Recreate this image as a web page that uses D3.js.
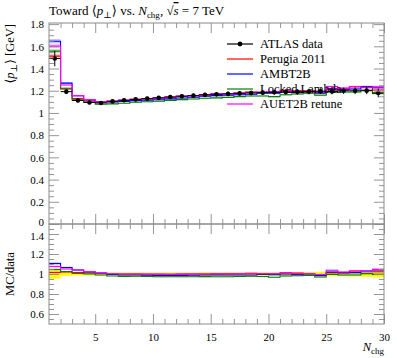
<!DOCTYPE html>
<html><head><meta charset="utf-8">
<script src="https://cdn.jsdelivr.net/npm/d3@7"></script>
<style>
html,body{margin:0;padding:0;background:#fff;}
svg{display:block;font-family:"Liberation Serif","DejaVu Serif",serif;}
</style></head><body>
<svg id="c" width="397" height="358"></svg>
<script>
// ---- data ----
const binLow  = [1,2,3,4,5,6,7,8,9,10,11,12,13,14,15,16,17,18,19,20,21,22,23,24,25,26,27,28,29];
const binHigh = [2,3,4,5,6,7,8,9,10,11,12,13,14,15,16,17,18,19,20,21,22,23,24,25,26,27,28,29,30];
const atlasData = [1.49,1.192,1.112,1.094,1.090,1.104,1.114,1.122,1.129,1.136,1.144,1.151,1.156,1.163,1.168,1.172,1.176,1.180,1.183,1.186,1.188,1.190,1.193,1.196,1.194,1.200,1.200,1.201,1.180];
const atlasErr  = [0.07,0.022,0.017,0.016,0.016,0.016,0.016,0.017,0.017,0.017,0.018,0.018,0.018,0.019,0.019,0.02,0.02,0.021,0.021,0.022,0.023,0.024,0.025,0.026,0.027,0.028,0.03,0.032,0.04];
const perugia2011 = [1.512,1.216,1.129,1.105,1.095,1.104,1.114,1.122,1.127,1.134,1.142,1.149,1.156,1.163,1.168,1.174,1.180,1.188,1.187,1.190,1.203,1.200,1.199,1.190,1.210,1.212,1.236,1.229,1.207];
const ambt2b      = [1.646,1.269,1.156,1.116,1.101,1.098,1.103,1.111,1.115,1.119,1.127,1.134,1.142,1.151,1.156,1.160,1.164,1.168,1.177,1.178,1.188,1.184,1.193,1.178,1.218,1.216,1.216,1.237,1.227];
const lockedLambda= [1.557,1.222,1.118,1.094,1.079,1.082,1.088,1.096,1.101,1.105,1.113,1.120,1.125,1.132,1.136,1.140,1.147,1.153,1.153,1.147,1.164,1.170,1.177,1.160,1.190,1.188,1.188,1.205,1.176];
const auet2b      = [1.602,1.252,1.156,1.121,1.101,1.107,1.114,1.122,1.129,1.136,1.142,1.149,1.156,1.163,1.172,1.174,1.180,1.184,1.187,1.192,1.200,1.194,1.197,1.190,1.238,1.224,1.236,1.231,1.235];
const mcErr       = [0.02,0.008,0.005,0.004,0.004,0.004,0.004,0.004,0.005,0.005,0.005,0.005,0.005,0.006,0.006,0.006,0.006,0.007,0.007,0.007,0.008,0.008,0.008,0.009,0.009,0.01,0.01,0.011,0.012];
const seriesNames = ["Perugia 2011","AMBT2B","Locked Lambda","AUET2B retune"];
const seriesColors= ["#ff0000","#0000ff","#008000","#ff00ff"];
const bandColors  = ["#ff8080","#8080ff","#80c080","#ff80ff"];
const mainTicks   = [0,0.2,0.4,0.6,0.8,1,1.2,1.4,1.6,1.8];
const ratioTicks  = [0.6,0.8,1,1.2,1.4];
const xTicks      = [5,10,15,20,25,30];

const mcSeries = [perugia2011, ambt2b, lockedLambda, auet2b];

// ---- layout ----
const svg = d3.select("#c");
const L=49, R=384, T=23, MB=224, RB=324;
const x  = d3.scaleLinear([1,30],[L,R]);
const yM = d3.scaleLinear([0,1.81],[MB,T]);
const yR = d3.scaleLinear([0.5,1.5],[RB,MB]);
const frameCol = "#8a8a8a";
const FS = 12.5, TFS = 11;

svg.append("clipPath").attr("id","cm").append("rect").attr("x",L).attr("y",T).attr("width",R-L).attr("height",MB-T);
svg.append("clipPath").attr("id","cr").append("rect").attr("x",L).attr("y",MB).attr("width",R-L).attr("height",RB-MB);

function stepPts(vals){ const p=[]; vals.forEach((v,i)=>{p.push([binLow[i],v]);p.push([binHigh[i],v]);}); return p; }
function bandPts(vals,errs){ const p=[]; vals.forEach((v,i)=>{p.push([binLow[i],v-errs[i],v+errs[i]]);p.push([binHigh[i],v-errs[i],v+errs[i]]);}); return p; }

// ---- axes helper ----
function drawAxes(y, major, minor, top, bottom, showXLabels, nudge){
  const gx = svg.append("g");
  const fmt = d=>String(+d.toFixed(2));
  const left = gx.append("g").attr("transform",`translate(${L},0)`)
    .call(d3.axisLeft(y).tickValues(major).tickSize(-10).tickFormat(fmt));
  gx.append("g").attr("transform",`translate(${L},0)`)
    .call(d3.axisLeft(y).tickValues(minor).tickSize(-5).tickFormat(""));
  gx.append("g").attr("transform",`translate(${R},0)`)
    .call(d3.axisRight(y).tickValues(major).tickSize(-10).tickFormat(""));
  gx.append("g").attr("transform",`translate(${R},0)`)
    .call(d3.axisRight(y).tickValues(minor).tickSize(-5).tickFormat(""));
  const xMinor = binLow.slice(1).filter(v=>v%5!==0);
  const bot = gx.append("g").attr("transform",`translate(0,${bottom})`)
    .call(d3.axisBottom(x).tickValues(xTicks).tickSize(-10).tickFormat(showXLabels? d3.format("d"):""));
  gx.append("g").attr("transform",`translate(0,${bottom})`)
    .call(d3.axisBottom(x).tickValues(xMinor).tickSize(-5).tickFormat(""));
  gx.append("g").attr("transform",`translate(0,${top})`)
    .call(d3.axisTop(x).tickValues(xTicks).tickSize(-10).tickFormat(""));
  gx.append("g").attr("transform",`translate(0,${top})`)
    .call(d3.axisTop(x).tickValues(xMinor).tickSize(-5).tickFormat(""));
  gx.selectAll(".domain").remove();
  gx.selectAll(".tick line").attr("stroke",frameCol).attr("stroke-width",0.9);
  gx.selectAll(".tick text").attr("font-family","Liberation Serif, serif").attr("font-size",TFS).attr("fill","#000");
  left.selectAll(".tick text").attr("x",-5).attr("dy",d=>(nudge[d]||0)+3.8);
  bot.selectAll(".tick text").attr("y",9);
  svg.append("rect").attr("x",L).attr("y",top).attr("width",R-L).attr("height",bottom-top)
    .attr("fill","none").attr("stroke",frameCol).attr("stroke-width",1);
}

// ---- main panel ----
const gM = svg.append("g").attr("clip-path","url(#cm)");

const legY = [44,59,74,89,104];
const legNames = ["ATLAS data"].concat(seriesNames);
const legCols = ["#000"].concat(seriesColors);
const leg = svg.append("g");
legNames.forEach((n,i)=>{
  leg.append("line").attr("x1",227).attr("x2",253).attr("y1",legY[i]).attr("y2",legY[i])
    .attr("stroke",legCols[i]).attr("stroke-width",1.2);
  leg.append("text").attr("x",260).attr("y",legY[i]+4).attr("font-size",FS).text(n);
});
leg.append("circle").attr("cx",240).attr("cy",legY[0]).attr("r",2.4).attr("fill","#000");

mcSeries.forEach((s,k)=>{
  gM.append("path").datum(bandPts(s,mcErr))
    .attr("d",d3.area().x(d=>x(d[0])).y0(d=>yM(d[1])).y1(d=>yM(d[2])))
    .attr("fill",bandColors[k]).attr("opacity",0.45);
});
mcSeries.forEach((s,k)=>{
  gM.append("path").datum(stepPts(s))
    .attr("d",d3.line().x(d=>x(d[0])).y(d=>yM(d[1])))
    .attr("fill","none").attr("stroke",seriesColors[k]).attr("stroke-width",1.1);
});
const dp = gM.append("g");
atlasData.forEach((v,i)=>{
  const cx = x((binLow[i]+binHigh[i])/2);
  dp.append("line").attr("x1",x(binLow[i])).attr("x2",x(binHigh[i])).attr("y1",yM(v)).attr("y2",yM(v)).attr("stroke","#000").attr("stroke-width",1);
  dp.append("line").attr("x1",cx).attr("x2",cx).attr("y1",yM(v-atlasErr[i])).attr("y2",yM(v+atlasErr[i])).attr("stroke","#000").attr("stroke-width",1);
  dp.append("circle").attr("cx",cx).attr("cy",yM(v)).attr("r",2.3).attr("fill","#000");
});

drawAxes(yM, mainTicks, d3.range(0.05,1.81,0.05).filter(v=>Math.abs(v*5-Math.round(v*5))>1e-6), T, MB, false, {0:-2.5});

// ---- ratio panel ----
const gR = svg.append("g").attr("clip-path","url(#cr)");
const ratioBand = atlasData.map((v,i)=>[1 - atlasErr[i]/v, 1 + atlasErr[i]/v]);
const rb=[]; ratioBand.forEach((b,i)=>{rb.push([binLow[i],b[0],b[1]]);rb.push([binHigh[i],b[0],b[1]]);});
gR.append("path").datum(rb).attr("d",d3.area().x(d=>x(d[0])).y0(d=>yR(d[1])).y1(d=>yR(d[2]))).attr("fill","#ffff00");
mcSeries.forEach((s,k)=>{
  const r = s.map((v,i)=>v/atlasData[i]);
  const re = mcErr.map((e,i)=>e/atlasData[i]);
  gR.append("path").datum(bandPts(r,re))
    .attr("d",d3.area().x(d=>x(d[0])).y0(d=>yR(d[1])).y1(d=>yR(d[2])))
    .attr("fill",bandColors[k]).attr("opacity",0.45);
});
mcSeries.forEach((s,k)=>{
  const r = s.map((v,i)=>v/atlasData[i]);
  gR.append("path").datum(stepPts(r))
    .attr("d",d3.line().x(d=>x(d[0])).y(d=>yR(d[1])))
    .attr("fill","none").attr("stroke",seriesColors[k]).attr("stroke-width",1.1);
});
drawAxes(yR, ratioTicks, d3.range(0.55,1.5,0.05).filter(v=>Math.abs(v*5-Math.round(v*5))>1e-6), MB, RB, true, {1.4:1.5});

// ---- titles & labels ----
const title = svg.append("text").attr("x",L).attr("y",15).attr("font-size",13);
title.append("tspan").text("Toward ⟨");
title.append("tspan").attr("font-style","italic").text("p");
title.append("tspan").attr("font-size",9).attr("dy",2.5).text("⊥");
title.append("tspan").attr("dy",-2.5).text("⟩ vs. ");
title.append("tspan").attr("font-style","italic").text("N");
title.append("tspan").attr("font-size",9).attr("dy",2.5).text("chg");
title.append("tspan").attr("dy",-2.5).text(", √");
title.append("tspan").attr("font-style","italic").attr("text-decoration","overline").text("s");
title.append("tspan").text(" = 7 TeV");

const yl = svg.append("text").attr("transform",`translate(14,${T+1}) rotate(-90)`).attr("text-anchor","end").attr("font-size",FS);
yl.append("tspan").text("⟨");
yl.append("tspan").attr("font-style","italic").text("p");
yl.append("tspan").attr("font-size",9).attr("dy",2.5).text("⊥");
yl.append("tspan").attr("dy",-2.5).text("⟩ [GeV]");

svg.append("text").attr("transform",`translate(14,274) rotate(-90)`).attr("text-anchor","middle").attr("font-size",FS).text("MC/data");

const xl = svg.append("text").attr("x",R).attr("y",351).attr("text-anchor","end").attr("font-size",FS);
xl.append("tspan").attr("font-style","italic").text("N");
xl.append("tspan").attr("font-size",9).attr("dy",2.5).text("chg");
</script>
</body></html>
